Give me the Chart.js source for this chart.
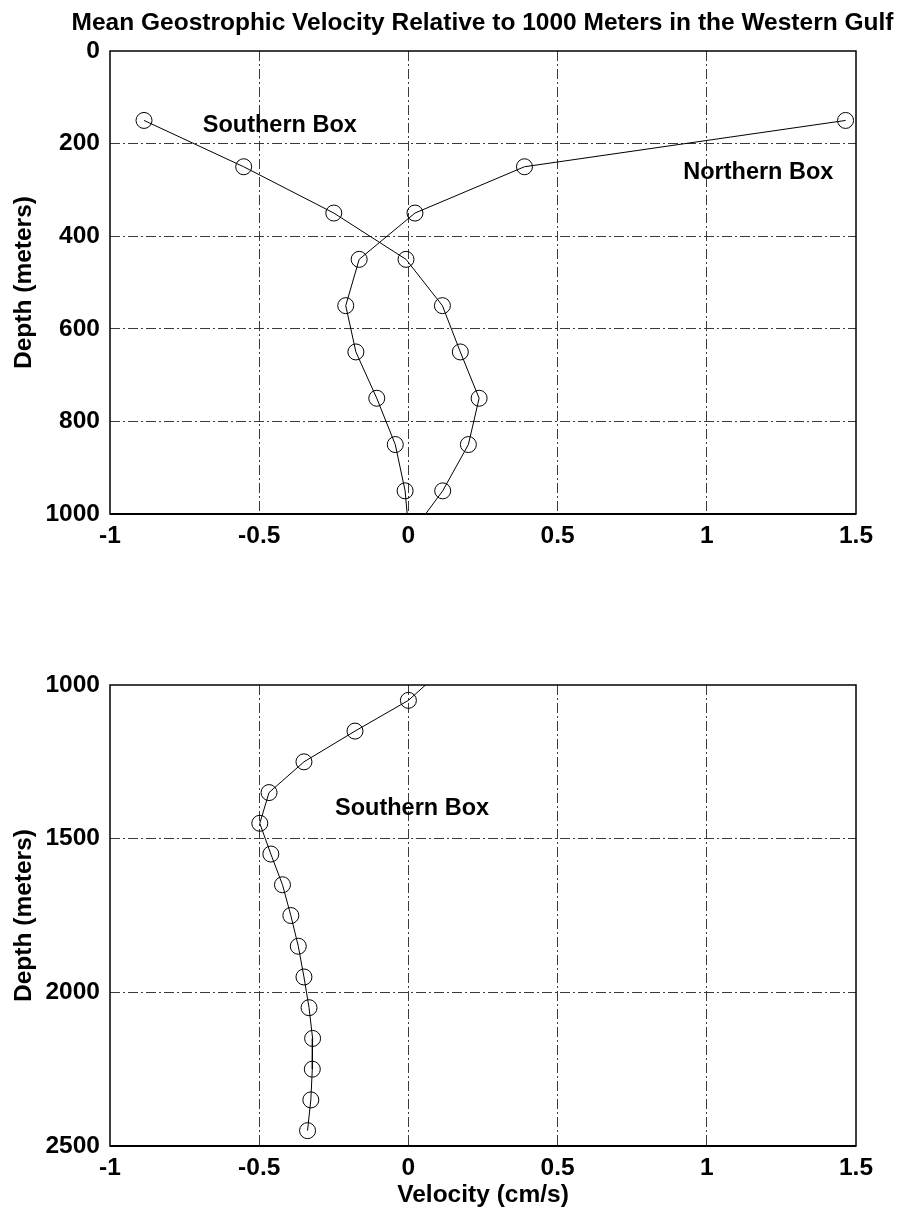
<!DOCTYPE html>
<html>
<head>
<meta charset="utf-8">
<title>Mean Geostrophic Velocity Relative to 1000 Meters in the Western Gulf</title>
<script src="https://cdn.jsdelivr.net/npm/chart.js@4/dist/chart.umd.min.js"></script>
<style>
  html, body { margin: 0; padding: 0; background: #fff; }
  #wrap { position: relative; width: 904px; height: 1220px; }
  canvas { display: block; }
</style>
</head>
<body>
<div id="wrap">
  <canvas id="upper" width="904" height="560"></canvas>
  <canvas id="lower" width="904" height="660"></canvas>
</div>
<script>
// Depth (m) of each velocity estimate
const depths = [150, 250, 350, 450, 550, 650, 750, 850, 950, 1050, 1150, 1250,
                1350, 1450, 1550, 1650, 1750, 1850, 1950, 2050, 2150, 2250, 2350, 2450];

// Mean geostrophic velocity (cm/s) relative to 1000 m
const southernBox = [-0.886, -0.552, -0.250, -0.008, 0.114, 0.174, 0.237, 0.201, 0.115, 0.000,
                     -0.179, -0.350, -0.467, -0.498, -0.461, -0.422, -0.394, -0.369, -0.350,
                     -0.333, -0.321, -0.322, -0.327, -0.338];
const northernBox = [1.465, 0.389, 0.022, -0.165, -0.210, -0.176, -0.106, -0.044, -0.011, 0.003];

// Tick labels
const velocityTicks = [-1, -0.5, 0, 0.5, 1, 1.5];
const upperDepthTicks = [0, 200, 400, 600, 800, 1000];
const lowerDepthTicks = [1000, 1500, 2000, 2500];

const FAMILY = '"Liberation Sans", Arial, Helvetica, sans-serif';
const labelFont = { family: FAMILY, size: 24.5, weight: 'bold', lineHeight: 1.2 };

const toPoints = vel => vel.map((v, i) => ({ x: v, y: depths[i] }));

function profile(label, vel) {
  return {
    label,
    data: toPoints(vel),
    showLine: true,
    borderColor: '#000',
    borderWidth: 1,
    tension: 0,
    pointRadius: 8,
    pointHoverRadius: 8,
    pointBorderWidth: 1,
    pointBorderColor: '#000',
    pointBackgroundColor: 'rgba(0,0,0,0)',
    clip: 0
  };
}

// Dash-dot grid only on interior ticks; the frame covers the edges
const interiorGrid = (lo, hi) => ctx =>
  (ctx.tick && (ctx.tick.value === lo || ctx.tick.value === hi)) ? 'rgba(0,0,0,0)' : '#3a3a3a';

function velocityAxis(withTitle, height) {
  return {
    type: 'linear', position: 'bottom', min: -1, max: 1.5,
    afterBuildTicks: s => { s.ticks = velocityTicks.map(v => ({ value: v })); },
    afterFit: s => { s.height = height; },
    grid: { color: interiorGrid(-1, 1.5), lineWidth: 1, drawTicks: false },
    border: { display: false, dash: [10, 3, 2, 3] },
    ticks: { color: '#000', font: labelFont, padding: 8, maxRotation: 0, autoSkip: false,
             callback: v => String(v) },
    title: { display: withTitle, text: 'Velocity (cm/s)', color: '#000', font: labelFont,
             padding: { top: 0, bottom: 10 } }
  };
}

function depthAxis(lo, hi, ticks) {
  return {
    type: 'linear', position: 'left', reverse: true, min: lo, max: hi,
    afterBuildTicks: s => { s.ticks = ticks.map(v => ({ value: v })); },
    afterFit: s => { s.width = 110; },
    grid: { color: interiorGrid(lo, hi), lineWidth: 1, drawTicks: false },
    border: { display: false, dash: [10, 3, 2, 3] },
    ticks: { color: '#000', font: labelFont, padding: 10, autoSkip: false,
             callback: v => String(v) },
    title: { display: true, text: 'Depth (meters)', color: '#000', font: labelFont,
             padding: { top: 10, bottom: 0 } }
  };
}

// Box outline around the plotting area
const framePlugin = {
  id: 'frame',
  afterDatasetsDraw(chart) {
    const { ctx, chartArea: a } = chart;
    ctx.save();
    ctx.strokeStyle = '#000';
    ctx.lineWidth = 1.5;
    ctx.strokeRect(a.left, a.top, a.right - a.left, a.bottom - a.top);
    ctx.lineWidth = 2;
    ctx.beginPath();
    ctx.moveTo(a.left, a.bottom);
    ctx.lineTo(a.right, a.bottom);
    ctx.stroke();
    ctx.restore();
  }
};

// Text notes placed in data coordinates (left edge, baseline)
const notesPlugin = {
  id: 'notes',
  afterDatasetsDraw(chart, args, opts) {
    const { ctx, scales } = chart;
    ctx.save();
    ctx.fillStyle = '#000';
    ctx.font = 'bold 23.5px ' + FAMILY;
    ctx.textAlign = 'left';
    ctx.textBaseline = 'alphabetic';
    (opts.items || []).forEach(n => {
      ctx.fillText(n.text, scales.x.getPixelForValue(n.x), scales.y.getPixelForValue(n.y));
    });
    if (opts.heading) {
      ctx.font = 'bold 24.5px ' + FAMILY;
      ctx.textAlign = 'center';
      ctx.fillText(opts.heading.text, opts.heading.x, opts.heading.y);
    }
    ctx.restore();
  }
};

const common = {
  responsive: false,
  animation: false,
  devicePixelRatio: 1,
  events: [],
  plugins: { legend: { display: false }, tooltip: { enabled: false }, title: { display: false } }
};

new Chart(document.getElementById('upper'), {
  type: 'scatter',
  data: { datasets: [profile('Southern Box', southernBox), profile('Northern Box', northernBox)] },
  options: {
    ...common,
    layout: { padding: { top: 51, right: 48, left: 0, bottom: 0 } },
    scales: { x: velocityAxis(false, 46), y: depthAxis(0, 1000, upperDepthTicks) },
    plugins: {
      ...common.plugins,
      notes: {
        heading: { text: 'Mean Geostrophic Velocity Relative to 1000 Meters in the Western Gulf', x: 482.5, y: 30 },
        items: [
          { text: 'Southern Box', x: -0.689, y: 174 },
          { text: 'Northern Box', x: 0.921, y: 277 }
        ]
      }
    }
  },
  plugins: [framePlugin, notesPlugin]
});

new Chart(document.getElementById('lower'), {
  type: 'scatter',
  data: { datasets: [profile('Southern Box', southernBox)] },
  options: {
    ...common,
    layout: { padding: { top: 125, right: 48, left: 0, bottom: 0 } },
    scales: { x: velocityAxis(true, 74), y: depthAxis(1000, 2500, lowerDepthTicks) },
    plugins: {
      ...common.plugins,
      notes: { items: [{ text: 'Southern Box', x: -0.246, y: 1423 }] }
    }
  },
  plugins: [framePlugin, notesPlugin]
});
</script>
</body>
</html>
